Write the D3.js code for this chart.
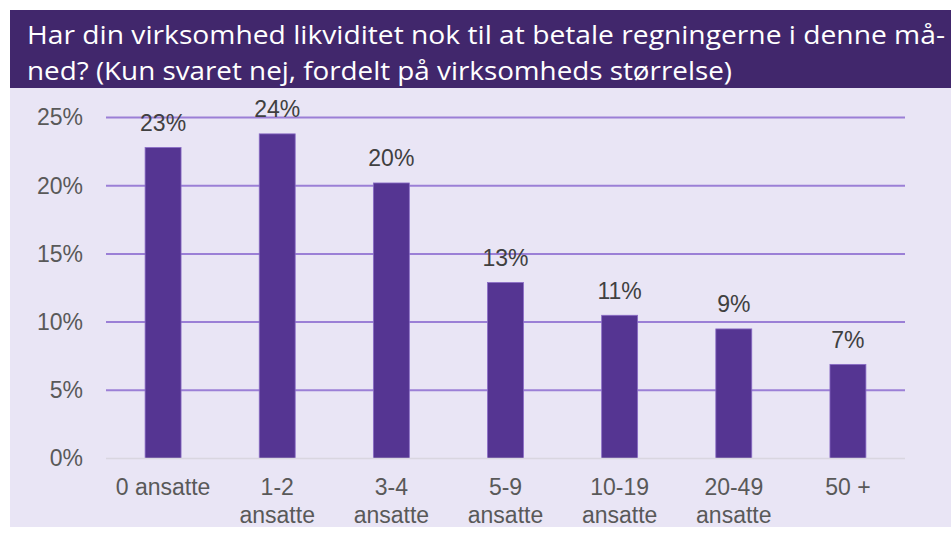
<!DOCTYPE html>
<html>
<head>
<meta charset="utf-8">
<script src="https://cdn.jsdelivr.net/npm/d3@7"></script>
<style>
  body { margin: 0; background: #fff; }
  svg { display: block; }
</style>
</head>
<body>
<div id="chart"></div>
<script>
// share answering "nej", by company size
const categories = [["0 ansatte"], ["1-2", "ansatte"], ["3-4", "ansatte"], ["5-9", "ansatte"],
    ["10-19", "ansatte"], ["20-49", "ansatte"], ["50 +"]];
const values = [22.8, 23.8, 20.2, 12.9, 10.5, 9.5, 6.9];
const valueLabels = ["23%", "24%", "20%", "13%", "11%", "9%", "7%"];
const yTicks = [0, 5, 10, 15, 20, 25];
const titleLines = ["Har din virksomhed likviditet nok til at betale regningerne i denne må-",
    "ned? (Kun svaret nej, fordelt på virksomheds størrelse)"];

const W = 951, H = 537;
const svg = d3.select("#chart").append("svg")
    .attr("width", W)
    .attr("height", H);

// title band
svg.append("rect")
    .attr("x", 10).attr("y", 10)
    .attr("width", W - 10).attr("height", 78)
    .attr("fill", "#41276c");

svg.selectAll(".title")
    .data(titleLines)
    .enter().append("text")
    .attr("class", "title")
    .attr("x", 27)
    .attr("y", (d, i) => 44 + i * 36)
    .attr("textLength", (d, i) => i === 0 ? 918 : 705)
    .attr("lengthAdjust", "spacingAndGlyphs")
    .style("font-family", "'Open Sans', sans-serif")
    .style("font-size", "25px")
    .style("fill", "#fff")
    .text(d => d);

// plot background
svg.append("rect")
    .attr("x", 10).attr("y", 88)
    .attr("width", W - 10).attr("height", 439)
    .attr("fill", "#e9e5f5");

const plotLeft = 106, plotRight = 905, plotTop = 117.5, plotBottom = 458.5;
const font = "'Liberation Sans', Arial, sans-serif";

const x = d3.scaleBand()
    .domain(d3.range(categories.length))
    .range([plotLeft, plotRight])
    .paddingInner(0.685)
    .paddingOuter(0.3425);

const y = d3.scaleLinear()
    .domain([0, 25])
    .range([plotBottom, plotTop]);

// gridlines
svg.selectAll(".grid")
    .data(yTicks.filter(d => d > 0))
    .enter().append("line")
    .attr("class", "grid")
    .attr("x1", plotLeft).attr("x2", plotRight)
    .attr("y1", d => y(d)).attr("y2", d => y(d))
    .attr("stroke", "#9b7fd6")
    .attr("stroke-width", 2);

// y axis labels
const yAxis = svg.append("g")
    .attr("transform", "translate(" + plotLeft + ",0)")
    .call(d3.axisLeft(y).tickValues(yTicks).tickFormat(d => d + "%")
        .tickSize(0).tickPadding(23));
yAxis.select(".domain").remove();
yAxis.selectAll("text")
    .style("font-family", font)
    .style("font-size", "23px")
    .style("fill", "#595959");

// bars
svg.selectAll(".bar")
    .data(values)
    .enter().append("rect")
    .attr("class", "bar")
    .attr("x", (d, i) => x(i))
    .attr("y", d => y(d))
    .attr("width", x.bandwidth())
    .attr("height", d => plotBottom - y(d))
    .attr("fill", "#553592")
    .attr("stroke", "#8a6cc6")
    .attr("stroke-width", 0.8);

// baseline
svg.append("line")
    .attr("x1", plotLeft).attr("x2", plotRight)
    .attr("y1", plotBottom).attr("y2", plotBottom)
    .attr("stroke", "#d9d6e0")
    .attr("stroke-width", 1.5);

// value labels
svg.selectAll(".bar-text")
    .data(values)
    .enter().append("text")
    .attr("class", "bar-text")
    .attr("x", (d, i) => x(i) + x.bandwidth() / 2)
    .attr("y", d => y(d) - 16.5)
    .attr("text-anchor", "middle")
    .style("font-family", font)
    .style("font-size", "23px")
    .style("fill", "#404040")
    .text((d, i) => valueLabels[i]);

// category labels
const cat = svg.selectAll(".cat")
    .data(categories)
    .enter().append("text")
    .attr("class", "cat")
    .attr("text-anchor", "middle")
    .attr("transform", (d, i) => "translate(" + (x(i) + x.bandwidth() / 2) + "," + 495 + ")")
    .style("font-family", font)
    .style("font-size", "23px")
    .style("fill", "#595959");
cat.selectAll("tspan")
    .data(d => d)
    .enter().append("tspan")
    .attr("x", 0)
    .attr("dy", (d, i) => i === 0 ? 0 : 28)
    .text(d => d);
</script>
</body>
</html>
